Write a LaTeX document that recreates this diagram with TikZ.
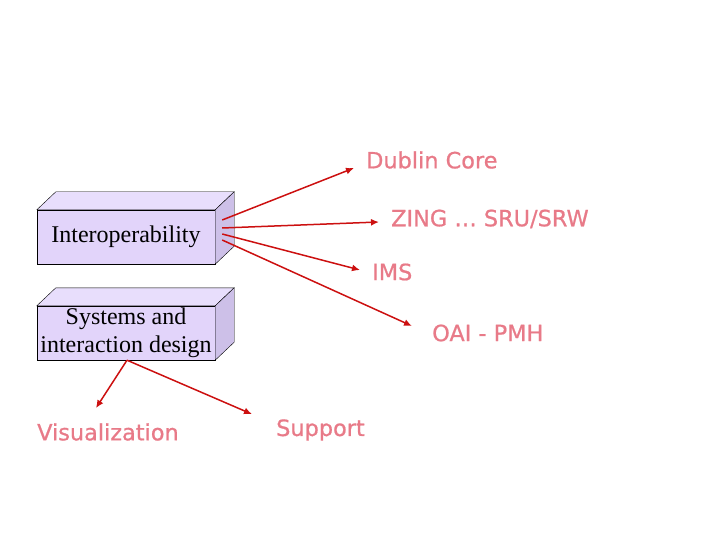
\documentclass[tikz,border=0pt]{standalone}
\usepackage{fontspec}
\setmainfont{Liberation Serif}
\newfontfamily\labelfont[FakeBold=0.8]{DejaVu Sans}
\usetikzlibrary{arrows.meta,calc}

\definecolor{boxfront}{RGB}{226,212,250}
\definecolor{boxtop}{RGB}{232,222,252}
\definecolor{boxside}{RGB}{205,192,232}
\definecolor{arrowred}{RGB}{204,16,16}
\definecolor{labelpink}{RGB}{232,122,136}

\tikzset{
  block/.style={draw, fill=boxfront, minimum width=178pt, minimum height=54pt, inner sep=0pt, align=center, font=\fontsize{24}{28}\selectfont},
  topic/.style={text=labelpink, inner sep=2pt, font=\labelfont\fontsize{22.4}{26}\selectfont},
  link/.style={draw=arrowred, line width=1.5pt, -{Latex[length=8pt,width=7pt]}}
}

\begin{document}
\begin{tikzpicture}[x=1pt,y=-1pt]
    \useasboundingbox (0,0) rectangle (720,540);

    % blocks
    \node[block] (inter) at (126,237) {Interoperability};
    \node[block] (sys) at (126,333) {Systems and\\interaction design};

    % 3d parts
    \foreach \b in {inter,sys} {
        \draw[fill=boxtop] (\b.north west) -- ++(19,-18) -- ($(\b.north east)+(19,-18)$) -- (\b.north east) -- cycle;
        \draw[fill=boxside] (\b.north east) -- ++(19,-18) -- ($(\b.south east)+(19,-18)$) -- (\b.south east) -- cycle;
    }

    % topics
    \node[topic, anchor=west] (dc) at (364,160) {Dublin Core};
    \node[topic, anchor=west] (zing) at (389,219) {ZING … SRU/SRW};
    \node[topic, anchor=west] (ims) at (370,272) {IMS};
    \node[topic, anchor=west] (oai) at (430,333) {OAI - PMH};
    \node[topic, anchor=west] (vis) at (35,432) {Visualization};
    \node[topic, anchor=west] (sup) at (274,430) {Support};

    % start points on the side face
    \coordinate (s1) at ($(inter.east)+(7,-17)$);
    \coordinate (s2) at ($(inter.east)+(7,-9)$);
    \coordinate (s3) at ($(inter.east)+(7,-3)$);
    \coordinate (s4) at ($(inter.east)+(7,3)$);
    \coordinate (s5) at ($(sys.south)+(1,0)$);

    % links
    \draw[link] (s1) -- ($(dc.west)+(-10,8)$);
    \draw[link] (s2) -- ($(zing.west)+(-10,3)$);
    \draw[link] (s3) -- ($(ims.west)+(-10,-2)$);
    \draw[link] (s4) -- ($(oai.west)+(-18,-7)$);
    \draw[link] (s5) -- ($(vis.north)+(-12,-13)$);
    \draw[link] (s5) -- ($(sup.north west)+(-22,-3)$);
\end{tikzpicture}
\end{document}
